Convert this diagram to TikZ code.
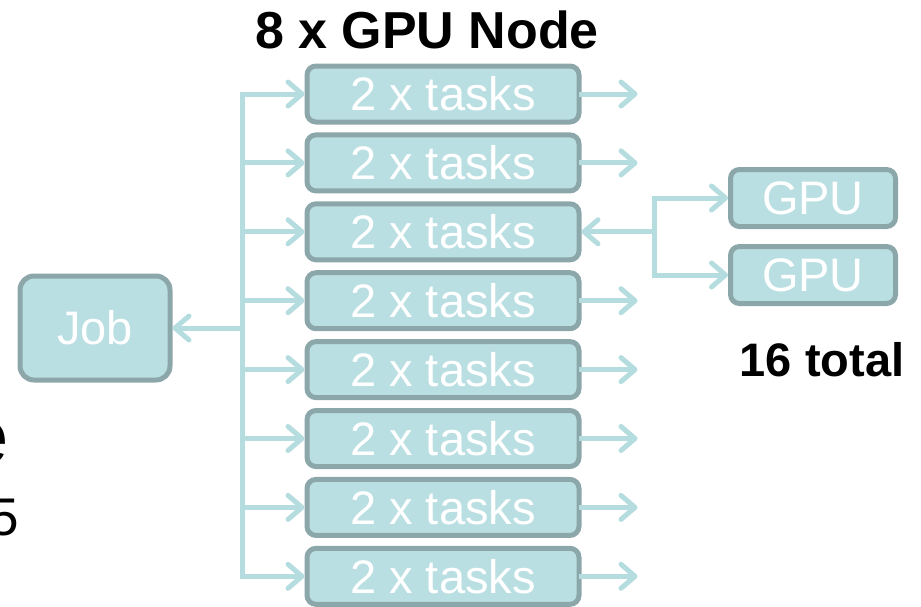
\documentclass[tikz,border=0pt]{standalone}
\usepackage{fontspec}
\setmainfont{Liberation Sans}
\usetikzlibrary{positioning,arrows.meta}

\definecolor{boxfill}{HTML}{BADFE2}
\definecolor{boxline}{HTML}{8CA7A9}
\definecolor{linkcol}{HTML}{B5DCDF}

\tikzset{
	task/.style={draw=boxline, fill=boxfill, line width=5pt, rounded corners=9pt,
		text=white, font=\fontsize{47}{50}\selectfont, inner sep=0pt,
		minimum width=272pt, minimum height=56pt},
	gpu/.style={task, minimum width=165pt, minimum height=57pt},
	link/.style={draw=linkcol, line width=5pt, line cap=rect,
		-{Straight Barb[length=14pt, width=24pt, round]}},
	trunk/.style={draw=linkcol, line width=5pt, line cap=rect},
	heading/.style={font=\fontsize{52}{56}\selectfont\bfseries}
}

\begin{document}
\begin{tikzpicture}[x=1pt, y=-1pt]
			
			\useasboundingbox (0,0) rectangle (921,606);
			\clip (0,0) rectangle (921,606);
			
			% Define nodes
			\node[task]                    (t1) at (443,94) {2 x tasks};
			\node[task, below=7.9pt of t1] (t2) {2 x tasks};
			\node[task, below=7.9pt of t2] (t3) {2 x tasks};
			\node[task, below=7.9pt of t3] (t4) {2 x tasks};
			\node[task, below=7.9pt of t4] (t5) {2 x tasks};
			\node[task, below=7.9pt of t5] (t6) {2 x tasks};
			\node[task, below=7.9pt of t6] (t7) {2 x tasks};
			\node[task, below=7.9pt of t7] (t8) {2 x tasks};
			
			\node[task, rounded corners=14pt, minimum width=150pt, minimum height=104pt] (job) at (95,328) {Job};
			
			\node[gpu]                   (g1) at (813,198) {GPU};
			\node[gpu, below=15pt of g1] (g2) {GPU};
			
			\node[heading] (head)  at (427,30)  {8 x GPU Node};
			\node[heading, font=\fontsize{47}{50}\selectfont\bfseries] (total) at (822,360) {16 total};
			
			% text running in from the left
			\node[anchor=base east, inner sep=0pt, font=\fontsize{78}{80}\selectfont] (frag1) at (9,463) {e};
			\node[anchor=base east, inner sep=0pt, font=\fontsize{53}{56}\selectfont] (frag2) at (19,535) {5};
			
			% Connect the nodes
			\coordinate (trunk) at (242,0);
			\draw[trunk] (trunk |- t1.west) -- (trunk |- t8.west);
			\draw[link] (trunk |- job.east) -- (job.east);
			\foreach \t in {t1,t2,t3,t4,t5,t6,t7,t8}
				\draw[link] (trunk |- \t.west) -- (\t.west);
			\foreach \t in {t1,t2,t4,t5,t6,t7,t8}
				\draw[link] (\t.east) -- ++(56,0);
			
			\coordinate (split) at (654,0);
			\draw[trunk] (split |- g1.west) -- (split |- g2.west);
			\draw[link] (split |- t3.east) -- (t3.east);
			\draw[link] (split |- g1.west) -- (g1.west);
			\draw[link] (split |- g2.west) -- (g2.west);
			
\end{tikzpicture}
\end{document}
